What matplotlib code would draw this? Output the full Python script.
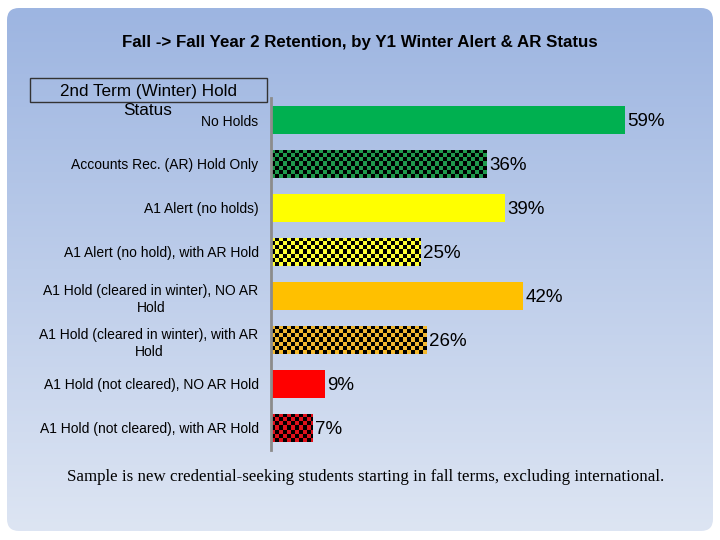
import numpy as np
import matplotlib
matplotlib.use("Agg")
import matplotlib.pyplot as plt
from matplotlib.patches import FancyBboxPatch, Rectangle

categories = [
    "No Holds",
    "Accounts Rec. (AR) Hold Only",
    "A1 Alert (no holds)",
    "A1 Alert (no hold), with AR Hold",
    "A1 Hold (cleared in winter), NO AR\nHold",
    "A1 Hold (cleared in winter), with AR\nHold",
    "A1 Hold (not cleared), NO AR Hold",
    "A1 Hold (not cleared), with AR Hold",
]
retention = [59, 36, 39, 25, 42, 26, 9, 7]
value_labels = ["59%", "36%", "39%", "25%", "42%", "26%", "9%", "7%"]
bar_colors = ["#00b050", "#1f9a4c", "#ffff00", "#ffff33", "#ffc000", "#f2b830", "#ff0000", "#e0101a"]
checkered = [False, True, False, True, False, True, False, True]

title = "Fall -> Fall Year 2 Retention, by Y1 Winter Alert & AR Status"
legend_title = "2nd Term (Winter) Hold\nStatus"
footnote = "Sample is new credential-seeking students starting in fall terms, excluding international."

W, H = 720, 540
fig = plt.figure(figsize=(W / 100, H / 100), dpi=100)
fig.patch.set_facecolor("white")

# background panel in pixel coordinates
bg = fig.add_axes([0, 0, 1, 1])
bg.set_xlim(0, W)
bg.set_ylim(H, 0)
bg.axis("off")
top = np.array([0x9d, 0xb5, 0xe1]) / 255
bottom = np.array([0xdd, 0xe5, 0xf3]) / 255
t = np.linspace(0, 1, 256)[:, None]
grad = (top * (1 - t) + bottom * t)[:, None, :]
im = bg.imshow(grad, extent=(7, 713, 531, 8), aspect="auto", interpolation="bilinear")
panel = FancyBboxPatch((7, 8), 706, 523, boxstyle="round,pad=0,rounding_size=12",
                       facecolor="none", edgecolor="none", transform=bg.transData)
bg.add_patch(panel)
im.set_clip_path(panel)

bg.text(360, 42, title, ha="center", va="center", fontsize=12.2, fontweight="bold",
        family="Liberation Sans")
bg.add_patch(Rectangle((30, 78), 237, 24, facecolor="none", edgecolor="#333333", lw=1))
for i, line in enumerate(legend_title.split("\n")):
    bg.text(148, 90 + 19 * i, line, ha="center", va="center_baseline", fontsize=12.3,
            family="Liberation Sans")
bg.text(366, 477, footnote, ha="center", va="center", fontsize=12.2, family="Liberation Serif")

# main chart
ax = fig.add_axes([271 / W, 90 / H, 420 / W, 352 / H])
ax.patch.set_alpha(0)
ypos = np.arange(len(categories))
bars = ax.barh(ypos, retention, height=0.64, color=bar_colors, edgecolor="none")
ax.set_xlim(0, 70)
ax.set_ylim(len(categories) - 0.5, -0.5)

# checker pattern for AR hold bars
nx, ny = 105, 88
cx, cy = np.meshgrid(np.arange(nx), np.arange(ny))
mask = (cx + cy) % 2 == 0
for bar, col, chk in zip(bars, bar_colors, checkered):
    if not chk:
        continue
    rgb = np.array(matplotlib.colors.to_rgb(col))
    img = np.where(mask[..., None], np.zeros(3), rgb)
    cim = ax.imshow(img, extent=(0, 70, len(categories) - 0.5, -0.5), aspect="auto",
                    interpolation="nearest", zorder=1.5)
    cim.set_clip_path(bar)

for bar, lab in zip(bars, value_labels):
    ax.text(bar.get_width() + 0.4, bar.get_y() + bar.get_height() / 2, lab,
            ha="left", va="center_baseline", fontsize=13.5, family="Liberation Sans")

ax.set_yticks(ypos)
ax.set_yticklabels(categories, fontsize=10, family="Liberation Sans",
                   multialignment="center", linespacing=1.35)
ax.tick_params(axis="y", length=0, pad=9)
ax.set_xticks([])
for s in ["top", "right", "bottom"]:
    ax.spines[s].set_visible(False)
ax.spines["left"].set_color("#8c8c8c")
ax.spines["left"].set_linewidth(2)
ax.spines["left"].set_zorder(3)

fig.savefig("out.png", dpi=100, facecolor="white")
